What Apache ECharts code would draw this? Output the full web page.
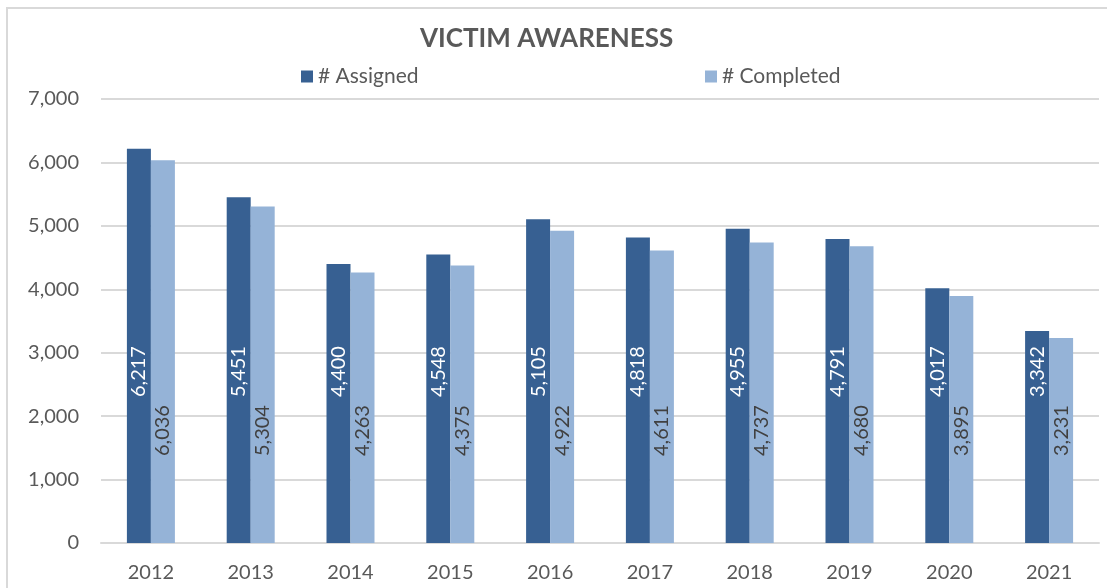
<!DOCTYPE html>
<html>
<head>
<meta charset="utf-8">
<script src="https://cdn.jsdelivr.net/npm/echarts@6/dist/echarts.min.js"></script>
<style>
  html, body { margin: 0; padding: 0; background: #fff; }
  #chart { width: 1107px; height: 588px; }
</style>
</head>
<body>
<div id="chart"></div>
<script>
  var years = ['2012', '2013', '2014', '2015', '2016', '2017', '2018', '2019', '2020', '2021'];
  var assigned = [6217, 5451, 4400, 4548, 5105, 4818, 4955, 4791, 4017, 3342];
  var completed = [6036, 5304, 4263, 4375, 4922, 4611, 4737, 4680, 3895, 3231];
  var yTicks = [0, 1000, 2000, 3000, 4000, 5000, 6000, 7000];

  var font = 'Lato, "Noto Sans", sans-serif';
  var fmt = function (v) { return Number(v).toLocaleString('en-US'); };

  var chart = echarts.init(document.getElementById('chart'));
  var option = {
    animation: false,
    title: {
      text: 'VICTIM AWARENESS',
      left: 415,
      top: 21,
      textStyle: { color: '#595959', fontSize: 26, fontWeight: 'bold', fontFamily: font }
    },
    legend: [
      {
        data: ['# Assigned'], left: 296, top: 61,
        itemWidth: 12, itemHeight: 12, itemGap: 5, icon: 'rect',
        textStyle: { color: '#595959', fontSize: 21, fontFamily: font }
      },
      {
        data: ['# Completed'], left: 700, top: 61,
        itemWidth: 12, itemHeight: 12, itemGap: 5, icon: 'rect',
        textStyle: { color: '#595959', fontSize: 21, fontFamily: font }
      }
    ],
    graphic: [{
      type: 'rect', silent: true,
      shape: { x: 7, y: 8, width: 1120, height: 600 },
      style: { fill: 'none', stroke: '#d9d9d9', lineWidth: 2 }
    }],
    grid: { left: 101, right: 8, top: 99, bottom: 45 },
    xAxis: {
      type: 'category',
      data: years,
      axisLine: { lineStyle: { color: '#d9d9d9', width: 2 } },
      axisTick: { show: false },
      axisLabel: { color: '#595959', fontSize: 20, fontFamily: font, margin: 20 }
    },
    yAxis: {
      type: 'value',
      min: yTicks[0],
      max: yTicks[yTicks.length - 1],
      interval: 1000,
      axisLine: { show: false },
      axisTick: { show: false },
      splitLine: { lineStyle: { color: '#d9d9d9', width: 2 } },
      axisLabel: { color: '#595959', fontSize: 20, fontFamily: font, margin: 22, formatter: fmt }
    },
    series: [
      {
        name: '# Assigned',
        type: 'bar',
        data: assigned,
        barWidth: 24,
        barGap: '0%',
        itemStyle: { color: '#376092' },
        label: {
          show: true, position: 'insideBottom', distance: 146, rotate: 90,
          align: 'left', verticalAlign: 'middle',
          color: '#ffffff', fontSize: 20, fontFamily: font, formatter: function (p) { return fmt(p.value); }
        }
      },
      {
        name: '# Completed',
        type: 'bar',
        data: completed,
        barWidth: 24,
        barGap: '0%',
        itemStyle: { color: '#95b3d7' },
        label: {
          show: true, position: 'insideBottom', distance: 87, rotate: 90,
          align: 'left', verticalAlign: 'middle',
          color: '#404040', fontSize: 20, fontFamily: font, formatter: function (p) { return fmt(p.value); }
        }
      }
    ]
  };
  chart.setOption(option);
</script>
</body>
</html>
